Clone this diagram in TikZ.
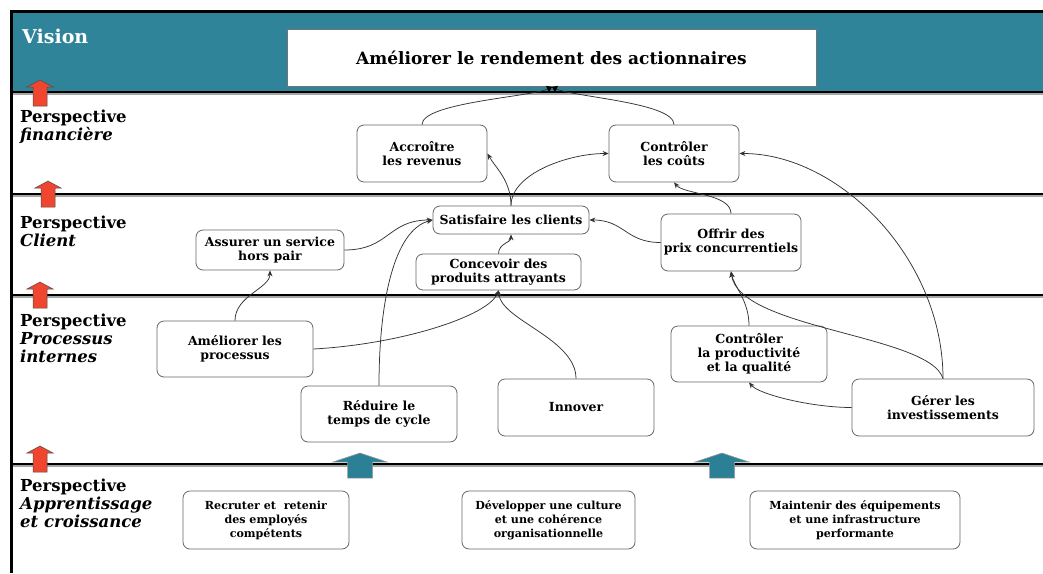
\documentclass[tikz,border=0pt]{standalone}
\usepackage{fontspec}
\setmainfont{DejaVu Serif}
\usetikzlibrary{arrows.meta,calc}
\definecolor{band}{RGB}{48,132,153}
\definecolor{redarrow}{RGB}{240,70,48}
\definecolor{tealarrow}{RGB}{44,128,150}
\begin{document}
\begin{tikzpicture}[x=1pt,y=-1pt,
  box/.style={draw=black!60, line width=0.8pt, rounded corners=7pt, fill=white,
    align=center, inner sep=0pt, font=\fontsize{12.5}{14}\selectfont\bfseries},
  smallbox/.style={box, font=\fontsize{11.1}{14}\selectfont\bfseries},
  lanelabel/.style={anchor=north west, align=left, inner sep=0pt,
    font=\fontsize{16.5}{18}\selectfont\bfseries},
  link/.style={draw=black!80, line width=0.75pt, -{Stealth[length=6pt,width=5pt]}},
  mergelink/.style={draw=black!80, line width=0.75pt, -{Triangle[length=5pt,width=7pt,black]}},
  lane/.style={line width=2.6pt, black},
  laneshade/.style={line width=1.2pt, black!35},
  redup/.pic={\draw[fill=redarrow, draw=black!70, line width=0.5pt]
      (-7,0) -- (-7,-19) -- (-13,-19) -- (0,-26) -- (13,-19) -- (7,-19) -- (7,0) -- cycle;},
  tealup/.pic={\draw[fill=tealarrow, draw=black!40, line width=0.5pt]
      (-12.5,0) -- (-12.5,-16) -- (-27,-16) -- (0,-25) -- (27,-16) -- (12.5,-16) -- (12.5,0) -- cycle;}
]
\useasboundingbox (0,0) rectangle (1043,573);

% vision band
\fill[band] (12,12) rectangle (1043,92);

% lane separators with a faint shadow
\foreach \yy in {92,194,295,464} {
  \draw[laneshade] (12,\yy+2) -- (1043,\yy+2);
  \draw[lane] (12,\yy) -- (1043,\yy);
}
% outer frame
\draw[line width=2.4pt] (1043,11.5) -- (11.5,11.5) -- (11.5,573);

% lane titles
\node[anchor=north west, inner sep=0pt, text=white,
  font=\fontsize{19}{20}\selectfont\bfseries] (tvision) at (22,29) {Vision};
\node[lanelabel] (tfin) at (20,110) {Perspective\\\textit{financière}};
\node[lanelabel] (tcli) at (20,216) {Perspective\\\textit{Client}};
\node[lanelabel] (tproc) at (20,314) {Perspective\\\textit{Processus}\\\textit{internes}};
\node[lanelabel] (tapp) at (20,479) {Perspective\\\textit{Apprentissage}\\\textit{et croissance}};

% upward arrows between lanes
\pic at (40,106) {redup};
\pic at (48,207) {redup};
\pic at (40,308) {redup};
\pic at (40,472) {redup};
\pic at (360,478) {tealup};
\pic at (722,478) {tealup};

% vision objective
\node[draw=black!55, line width=0.8pt, fill=white, minimum width=529pt, minimum height=57pt,
  inner sep=0pt, font=\fontsize{17}{18}\selectfont\bfseries] (vision) at (551.5,57.5)
  {Améliorer le rendement des actionnaires};
\coordinate (vin) at (552,87);

% financial
\node[box, minimum width=130pt, minimum height=57pt] (acc) at (422,153.5) {Accroître\\les revenus};
\node[box, minimum width=130pt, minimum height=57pt] (cout) at (674,153.5) {Contrôler\\les coûts};

% client
\node[box, minimum width=156pt, minimum height=28pt] (sat) at (511,220) {Satisfaire les clients};
\node[box, minimum width=148pt, minimum height=40pt] (ass) at (270,250) {Assurer un service\\hors pair};
\node[box, minimum width=165pt, minimum height=36pt] (con) at (498.5,272) {Concevoir des\\produits attrayants};
\node[box, minimum width=140pt, minimum height=57pt] (off) at (731,242.5) {Offrir des\\prix concurrentiels};

% internal processes
\node[box, minimum width=156pt, minimum height=56pt] (ame) at (235,349) {Améliorer les\\processus};
\node[box, minimum width=156pt, minimum height=56pt] (red) at (379,414) {Réduire le\\temps de cycle};
\node[box, minimum width=156pt, minimum height=57pt] (inn) at (576,407.5) {Innover};
\node[box, minimum width=156pt, minimum height=56pt] (prod) at (749,354) {Contrôler\\la productivité\\et la qualité};
\node[box, minimum width=182pt, minimum height=57pt] (ger) at (943,407.5) {Gérer les\\investissements};

% learning and growth
\node[smallbox, minimum width=166pt, minimum height=58pt] (rec) at (266,520) {Recruter et~ retenir\\des employés\\compétents};
\node[smallbox, minimum width=173pt, minimum height=58pt] (dev) at (548.5,520) {Développer une culture\\et une cohérence\\organisationnelle};
\node[smallbox, minimum width=210pt, minimum height=58pt] (mai) at (855,520) {Maintenir des équipements\\et une infrastructure\\performante};

% cause-and-effect links
\draw[mergelink] (acc.north) .. controls +(0,-22) and +(-22,10) .. (vin);
\draw[mergelink] (cout.north) .. controls +(0,-22) and +(22,10) .. (vin);
\draw[link] (sat.north) .. controls +(0,-25) and +(8,14) .. (acc.east);
\draw[link] (sat.north) .. controls +(0,-32) and +(-40,0) .. (cout.west);
\draw[link] (off.north) .. controls +(0,-20) and +(10,12) .. (cout.south);
\draw[link] (ger.north) .. controls +(0,-120) and +(100,0) .. (cout.east);
\draw[link] (ger.north) .. controls +(-13,-44) and +(8,58) .. (off.south);
\draw[link] (prod.north) .. controls +(0,-25) and +(3,15) .. (off.south);
\draw[link] (ger.west) .. controls +(-40,0) and +(10,12) .. (prod.south);
\draw[link] (off.west) .. controls +(-35,0) and +(35,0) .. (sat.east);
\draw[link] (con.north) .. controls +(0,-10) and +(0,8) .. (sat.south);
\draw[link] (ass.east) .. controls +(45,0) and +(-45,0) .. (sat.west);
\draw[link] (red.north) .. controls +(0,-86) and +(-38,10) .. (sat.west);
\draw[link] (ame.north) .. controls +(0,-25) and +(0,18) .. (ass.south);
\draw[link] (ame.east) .. controls +(90,-5) and +(-10,25) .. (con.south);
\draw[link] (inn.north) .. controls +(0,-40) and +(3,30) .. (con.south);
\end{tikzpicture}
\end{document}
